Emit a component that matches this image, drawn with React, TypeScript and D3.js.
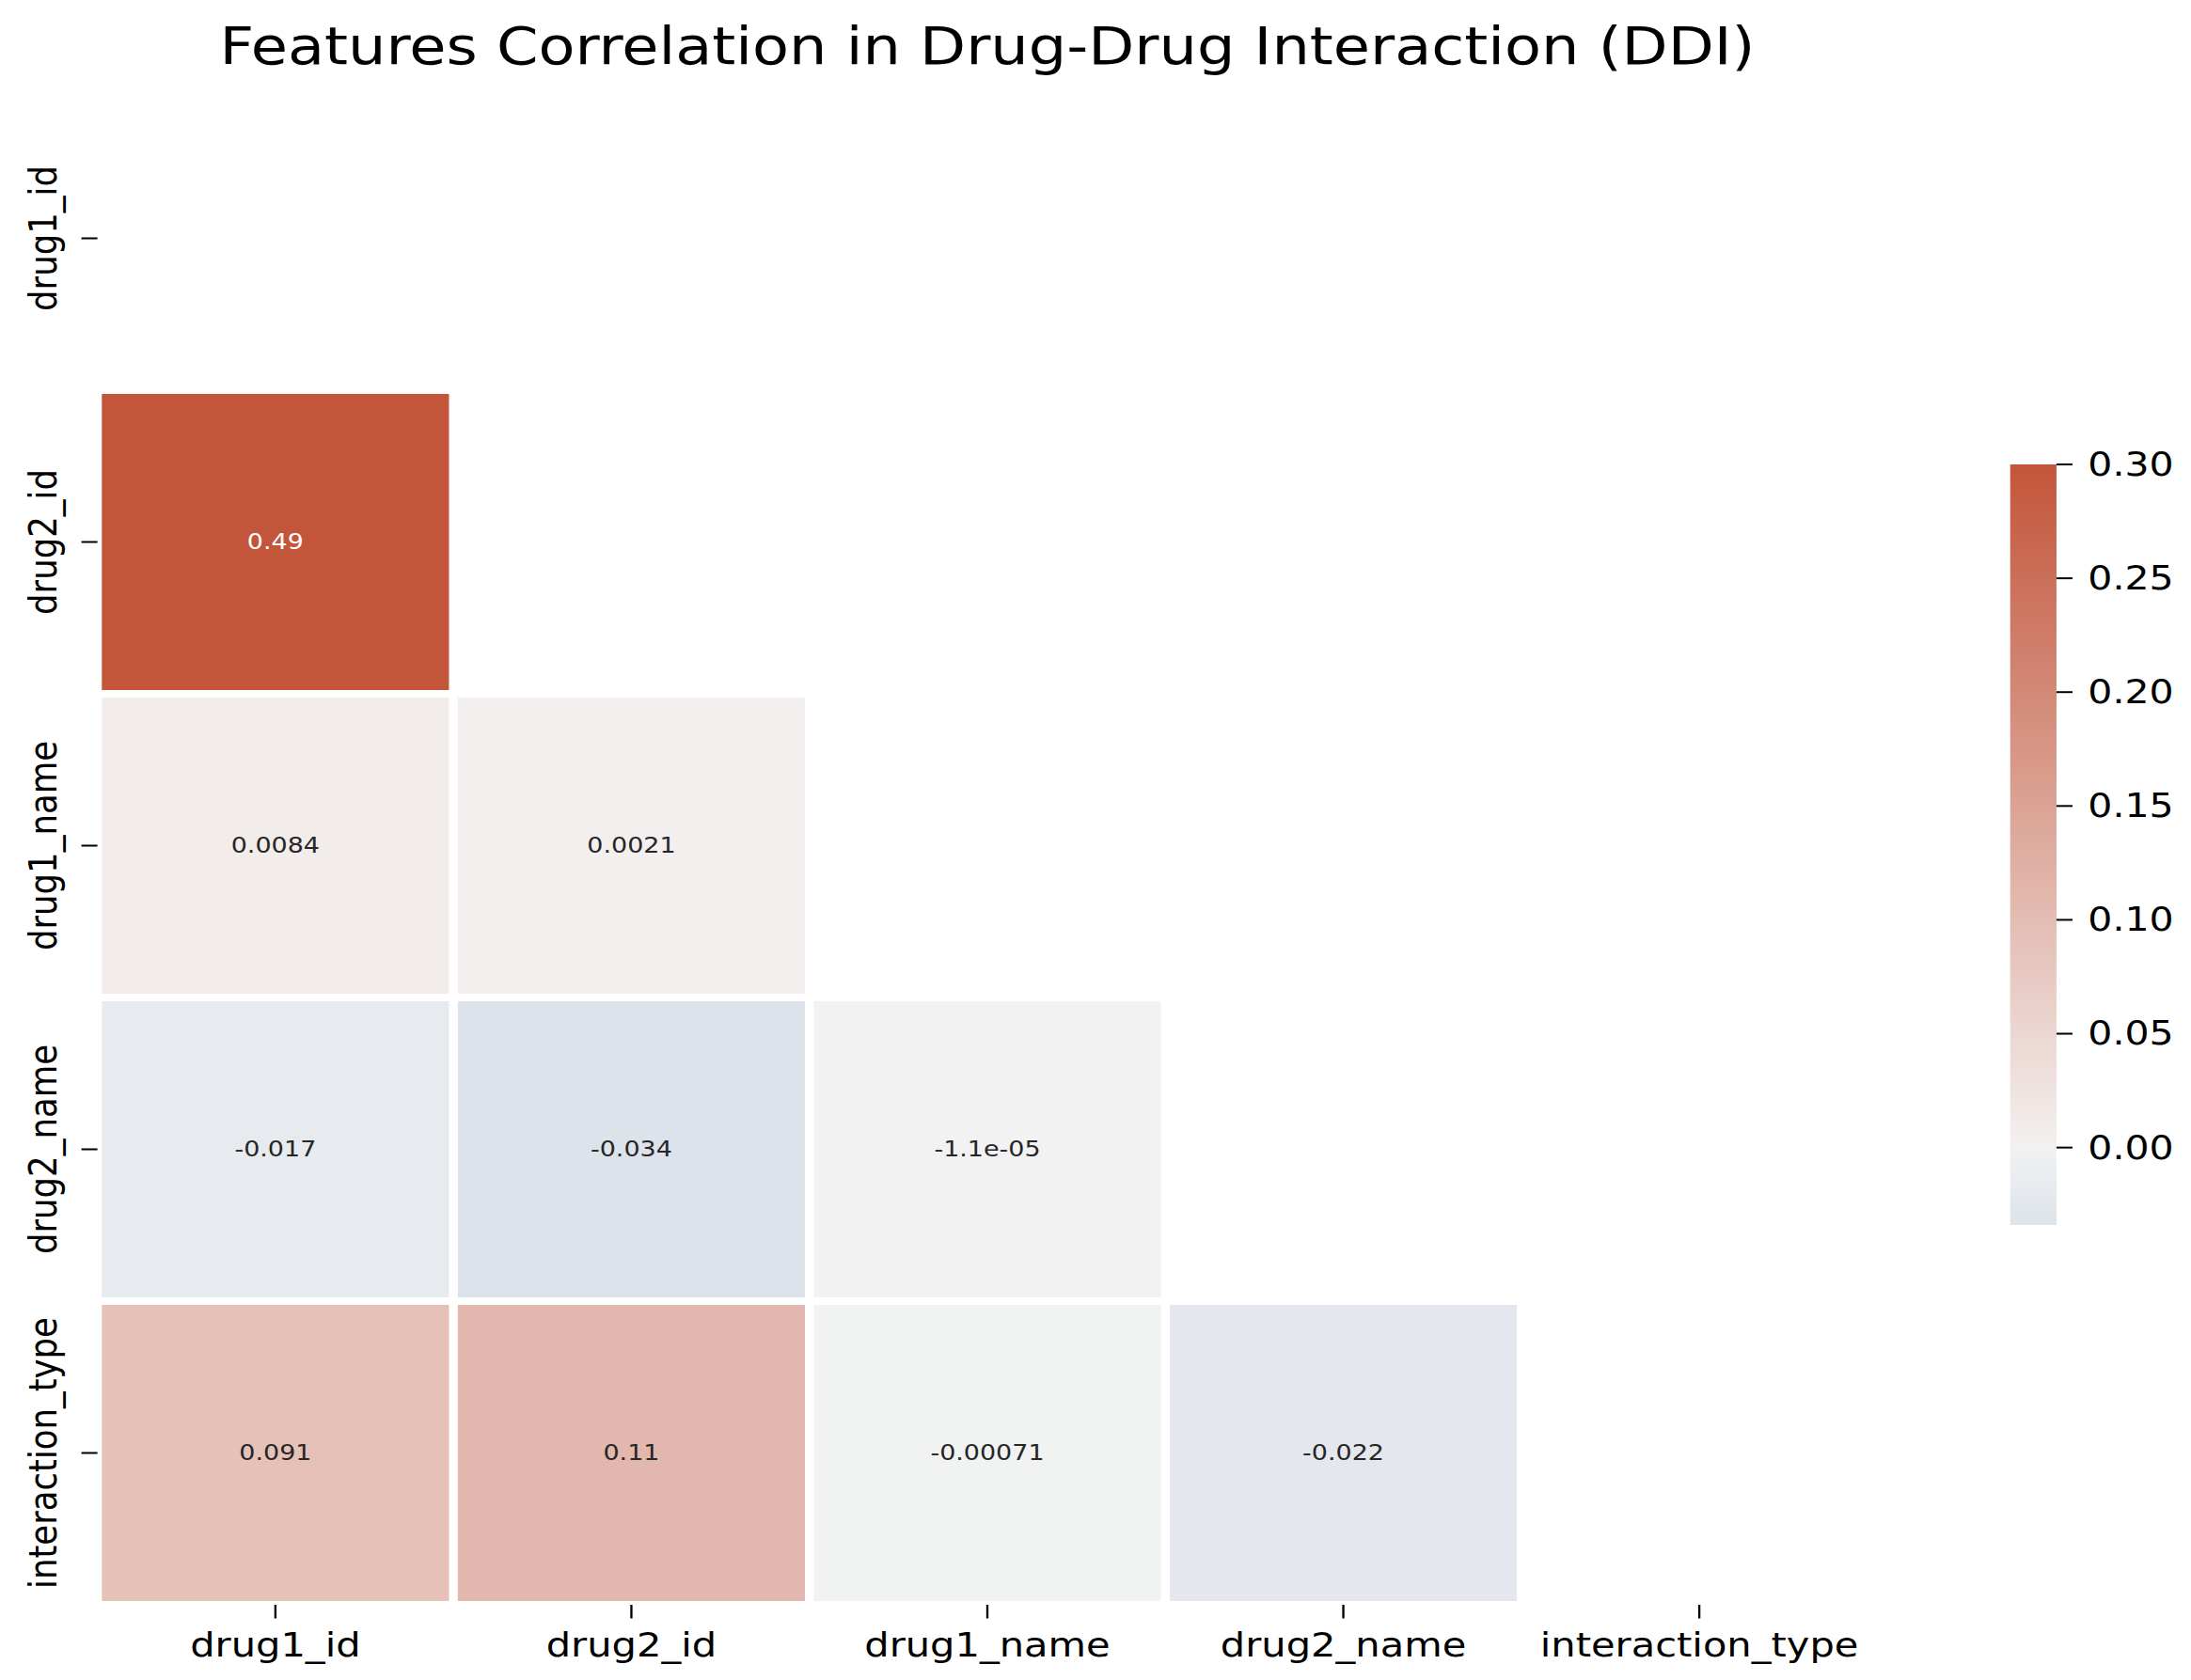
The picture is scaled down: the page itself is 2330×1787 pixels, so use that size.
import React from 'react';
import * as d3 from 'd3';

// feature names (rows and columns of the correlation matrix)
const features = ['drug1_id', 'drug2_id', 'drug1_name', 'drug2_name', 'interaction_type'];

// lower triangle only, one row per feature (row i has i values)
const corrRows: number[][] = [
  [],
  [0.49],
  [0.0084, 0.0021],
  [-0.017, -0.034, -1.1e-5],
  [0.091, 0.11, -0.00071, -0.022],
];

const cbarTicks = [0.0, 0.05, 0.1, 0.15, 0.2, 0.25, 0.3];

const TITLE = 'Features Correlation in Drug-Drug Interaction (DDI)';

// the reference picture is stretched horizontally, so draw in a narrower
// viewBox and let the svg scale it out
const W = 2330;
const H = 1787;
const STRETCH = 1.172;
const VW = W / STRETCH;

const FONT = '"DejaVu Sans", Verdana, sans-serif';

// diverging_palette(230, 20) approximated with rgb stops
const blue = '#466ea0';
const grayBlue = '#eff1f3';
const mid = '#f2f2f2';
const grayRed = '#f3efee';
const red = '#c3553a';
const cmap = d3
  .scaleLinear<string>()
  .domain([0, 0.496, 0.5, 0.504, 1])
  .range([blue, grayBlue, mid, grayRed, red])
  .interpolate(d3.interpolateRgb)
  .clamp(true);

const vmax = 0.3;
const vmin = d3.min(corrRows.flat())!;
// center = 0, so the colormap runs from -vmax to vmax
const colorOf = (v: number) => cmap((v + vmax) / (2 * vmax));

// python-ish "%.2g"
const fmtG = (v: number) => {
  if (v === 0) return '0';
  const e = Math.floor(Math.log10(Math.abs(v)));
  if (e < -4 || e >= 2) {
    const [m, ex] = v.toExponential(1).split('e');
    const sign = ex[0] === '-' ? '-' : '+';
    const digits = ex.replace(/^[+-]/, '').padStart(2, '0');
    return `${m.replace(/\.0$/, '')}e${sign}${digits}`;
  }
  let s = v.toPrecision(2);
  if (s.includes('.')) s = s.replace(/0+$/, '').replace(/\.$/, '');
  return s;
};

const App: React.FC = () => {
  const x = d3.scaleBand<string>().domain(features).range([88.4, 1703.4]);
  const y = d3.scaleBand<string>().domain(features).range([92, 1707]);
  const gap = 8;
  const tickLen = 14.5;

  const cells = corrRows.flatMap((row, i) =>
    row.map((v, j) => ({ r: features[i], c: features[j], v }))
  );

  // colorbar
  const cbX = 1824;
  const cbW = 42;
  const cb = d3.scaleLinear().domain([vmin, vmax]).range([1303, 494]);
  const stops = d3.range(0, 61).map((k) => {
    const v = vmin + ((vmax - vmin) * k) / 60;
    return { off: k / 60, col: colorOf(v) };
  });

  return (
    <>
      <style>{`body{margin:0;overflow:hidden;background:#fff}`}</style>
      <svg
        width={W}
        height={H}
        viewBox={`0 0 ${VW} ${H}`}
        preserveAspectRatio="none"
        style={{ display: 'block', fontFamily: FONT }}
      >
        <rect x={0} y={0} width={VW} height={H} fill="#fff" />
        <defs>
          <linearGradient id="cbar" x1="0" y1="1" x2="0" y2="0">
            {stops.map((s, k) => (
              <stop key={k} offset={s.off} stopColor={s.col} />
            ))}
          </linearGradient>
        </defs>

        {/* Title */}
        <text x={(x.range()[0] + x.range()[1]) / 2} y={68} textAnchor="middle" fontSize={54.4} fill="#000">
          {TITLE}
        </text>

        {/* Cells */}
        {cells.map((d) => (
          <g key={`${d.r}-${d.c}`}>
            <rect
              x={x(d.c)! + gap / 2}
              y={y(d.r)! + gap / 2}
              width={x.bandwidth() - gap}
              height={y.bandwidth() - gap}
              fill={colorOf(d.v)}
            />
            <text
              x={x(d.c)! + x.bandwidth() / 2}
              y={y(d.r)! + y.bandwidth() / 2}
              textAnchor="middle"
              dominantBaseline="central"
              fontSize={23}
              fill={d.v > 0.2 ? '#ffffff' : '#262626'}
            >
              {fmtG(d.v)}
            </text>
          </g>
        ))}

        {/* X axis */}
        {features.map((f) => {
          const cx = x(f)! + x.bandwidth() / 2;
          const y0 = y.range()[1];
          return (
            <g key={`x-${f}`}>
              <line x1={cx} x2={cx} y1={y0} y2={y0 + tickLen} stroke="#000" strokeWidth={2} />
              <text x={cx} y={1762} textAnchor="middle" fontSize={35.5} fill="#000">
                {f}
              </text>
            </g>
          );
        })}

        {/* Y axis */}
        {features.map((f) => {
          const cy = y(f)! + y.bandwidth() / 2;
          const x0 = x.range()[0];
          return (
            <g key={`y-${f}`}>
              <line x1={x0 - tickLen} x2={x0} y1={cy} y2={cy} stroke="#000" strokeWidth={2} />
              <text
                transform={`translate(51,${cy}) rotate(-90)`}
                textAnchor="middle"
                fontSize={35.5}
                fill="#000"
              >
                {f}
              </text>
            </g>
          );
        })}

        {/* Colorbar */}
        <rect x={cbX} y={cb(vmax)} width={cbW} height={cb(vmin) - cb(vmax)} fill="url(#cbar)" />
        {cbarTicks.map((t) => (
          <g key={`cb-${t}`}>
            <line x1={cbX + cbW} x2={cbX + cbW + tickLen} y1={cb(t)} y2={cb(t)} stroke="#000" strokeWidth={2} />
            <text
              x={cbX + cbW + tickLen + 14}
              y={cb(t)}
              dominantBaseline="central"
              fontSize={35}
              fill="#000"
            >
              {d3.format('.2f')(t)}
            </text>
          </g>
        ))}
      </svg>
    </>
  );
};

export default App;
